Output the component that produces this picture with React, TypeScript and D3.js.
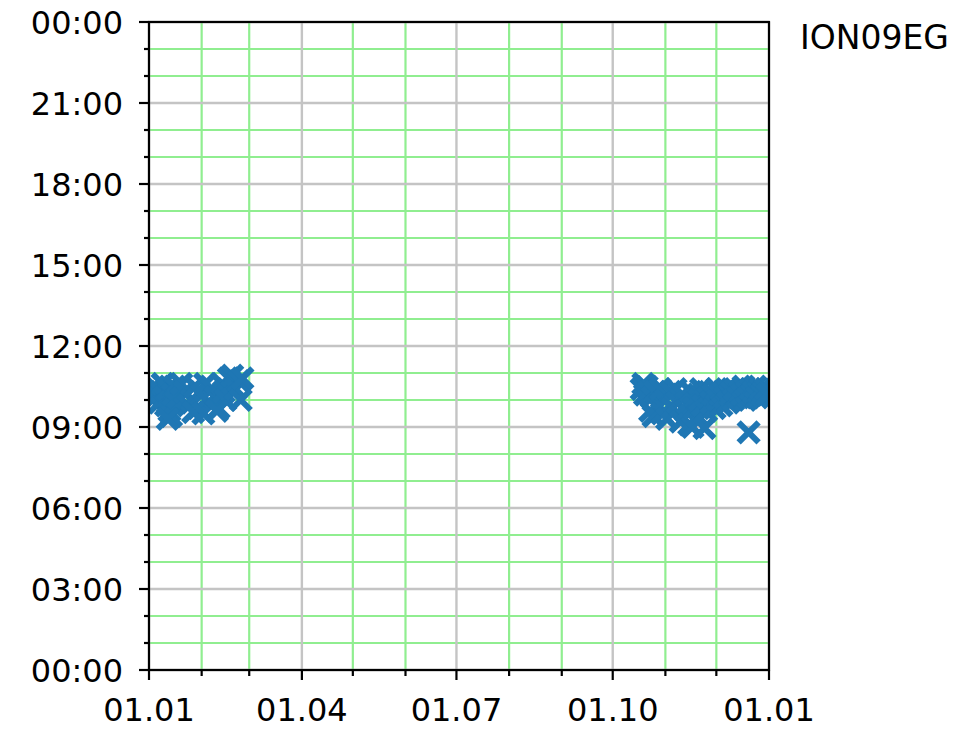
import React from "react";
import * as d3 from "d3";

const W = 971;
const H = 730;
const margin = { left: 149, right: 202, top: 22, bottom: 60 };

const stationName = "ION09EG";
const yearStart = new Date(2019, 0, 1);
const yearEnd = new Date(2020, 0, 1);

// Day of year (1-based) of each observation
const obsDays = [
  2, 3, 4, 5, 6, 7, 8, 9, 10, 11, 12, 13, 14, 15, 16, 17, 18, 20, 22, 24, 26, 28, 30, 32, 34, 36, 38,
  40, 42, 44, 45, 46, 48, 50, 52, 54, 55, 56, 12, 27, 33, 41,
  291, 292, 293, 294, 295, 296, 297, 298, 299, 300, 302, 303, 305, 306, 308, 309, 311, 312, 314, 315,
  317, 318, 319, 320, 321, 322, 323, 324, 325, 326, 327, 328, 329, 330, 331, 332, 333, 334, 335, 336,
  337, 338, 339, 340, 341, 342, 343, 344, 345, 346, 348, 349, 350, 351, 352, 353, 354, 355, 356, 357,
  358, 359, 360, 361, 362, 363, 364, 365, 354,
];
// Time of day of each observation, in hours
const obsHours = [
  10.3, 10.0, 10.5, 10.2, 10.4, 9.9, 10.3, 10.6, 10.1, 9.8, 10.4, 9.6, 9.4, 10.2, 10.5, 9.9, 10.1, 10.6, 10.3, 9.8, 10.0, 10.5, 9.7, 10.2, 10.6, 9.9, 10.4,
  10.1, 9.7, 10.6, 10.3, 10.0, 10.8, 10.9, 10.4, 10.7, 10.0, 10.8, 9.3, 9.55, 9.5, 9.6,
  10.4, 10.6, 10.2, 10.5, 10.3, 9.6, 10.1, 9.4, 10.3, 9.8, 10.4, 9.5, 10.0, 9.3, 10.3, 9.7, 10.4, 9.9, 9.2, 10.2,
  9.6, 9.9, 9.1, 10.3, 9.0, 9.7, 10.1, 9.4, 10.0, 10.4, 9.8, 8.96, 9.6, 10.1, 10.3, 9.9, 10.2, 9.7, 10.4, 10.0,
  10.2, 9.8, 10.3, 10.1, 10.4, 9.9, 10.2, 10.3, 10.0, 10.4, 10.1, 10.3, 10.2, 10.5, 10.0, 10.3, 10.1, 10.4, 10.2, 10.3,
  10.5, 10.1, 10.3, 10.4, 10.2, 10.3, 10.4, 10.2, 8.8,
];

const majorHours = [0, 3, 6, 9, 12, 15, 18, 21, 24];
const minorHours = d3.range(0, 25).filter((h) => h % 3 !== 0);

const FONT = "'DejaVu Sans', sans-serif";
const FS = 32;
const BLUE = "#1f77b4";

export default function App() {
  const x0 = margin.left;
  const x1 = W - margin.right;
  const y0 = margin.top;
  const y1 = H - margin.bottom;

  const x = d3.scaleTime().domain([yearStart, yearEnd]).range([x0, x1]);
  const y = d3.scaleLinear().domain([0, 24]).range([y1, y0]);

  const months = d3.timeMonth.range(yearStart, d3.timeDay.offset(yearEnd, 1));
  const majorMonths = months.filter((m) => m.getMonth() % 3 === 0);
  const minorMonths = months.filter((m) => m.getMonth() % 3 !== 0);
  const fmtDate = d3.timeFormat("%d.%m");
  const fmtHour = (h: number) => `${String(h % 24).padStart(2, "0")}:00`;

  const points = obsDays.map((d, i) => ({
    date: d3.timeDay.offset(yearStart, d - 1 + 0.45),
    hour: obsHours[i],
  }));

  const ms = 10;
  const markerPath = `M${-ms},${-ms}L${ms},${ms}M${-ms},${ms}L${ms},${-ms}`;

  return (
    <svg
      width={W}
      height={H}
      style={{ position: "absolute", left: 0, top: 0, background: "#fff" }}
    >
      <defs>
        <clipPath id="plot-area">
          <rect x={x0} y={y0} width={x1 - x0} height={y1 - y0} />
        </clipPath>
      </defs>

      {/* minor grid */}
      <g stroke="#90ee90" strokeWidth={2.2}>
        {minorHours.map((h) => (
          <line key={"mh" + h} x1={x0} x2={x1} y1={y(h)} y2={y(h)} />
        ))}
        {minorMonths.map((m) => (
          <line key={"mm" + m.getTime()} x1={x(m)} x2={x(m)} y1={y0} y2={y1} />
        ))}
      </g>
      {/* major grid */}
      <g stroke="#c4c4c4" strokeWidth={2.4}>
        {majorHours.map((h) => (
          <line key={"Mh" + h} x1={x0} x2={x1} y1={y(h)} y2={y(h)} />
        ))}
        {majorMonths.map((m) => (
          <line key={"Mm" + m.getTime()} x1={x(m)} x2={x(m)} y1={y0} y2={y1} />
        ))}
      </g>

      {/* observations */}
      <g clipPath="url(#plot-area)" stroke={BLUE} strokeWidth={6} fill="none">
        {points.map((p, i) => (
          <path
            key={i}
            d={markerPath}
            transform={`translate(${x(p.date)},${y(p.hour)})`}
          />
        ))}
      </g>

      {/* frame */}
      <rect
        x={x0}
        y={y0}
        width={x1 - x0}
        height={y1 - y0}
        fill="none"
        stroke="#000"
        strokeWidth={2.2}
      />

      {/* y axis */}
      <g stroke="#000" strokeWidth={2.2}>
        {majorHours.map((h) => (
          <line key={"yt" + h} x1={x0 - 10} x2={x0} y1={y(h)} y2={y(h)} />
        ))}
        {minorHours.map((h) => (
          <line key={"ytm" + h} x1={x0 - 5} x2={x0} y1={y(h)} y2={y(h)} />
        ))}
      </g>
      <g fontFamily={FONT} fontSize={FS} fill="#000" textAnchor="end">
        {majorHours.map((h) => (
          <text key={"yl" + h} x={x0 - 26} y={y(h)} dy="0.36em">
            {fmtHour(h)}
          </text>
        ))}
      </g>

      {/* x axis */}
      <g stroke="#000" strokeWidth={2.2}>
        {majorMonths.map((m) => (
          <line key={"xt" + m.getTime()} x1={x(m)} x2={x(m)} y1={y1} y2={y1 + 10} />
        ))}
        {minorMonths.map((m) => (
          <line key={"xtm" + m.getTime()} x1={x(m)} x2={x(m)} y1={y1} y2={y1 + 6} />
        ))}
      </g>
      <g fontFamily={FONT} fontSize={FS} fill="#000" textAnchor="middle">
        {majorMonths.map((m) => (
          <text key={"xl" + m.getTime()} x={x(m)} y={y1 + 51}>
            {fmtDate(m)}
          </text>
        ))}
      </g>

      <text x={800} y={49} fontFamily={FONT} fontSize={33} fill="#000">
        {stationName}
      </text>
    </svg>
  );
}
